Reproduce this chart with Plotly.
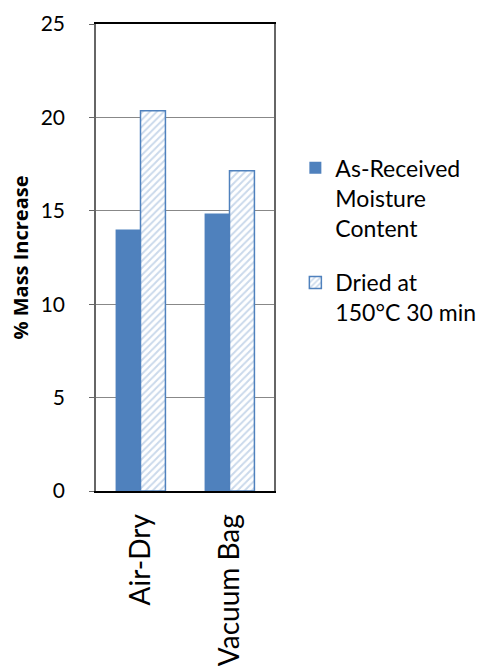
import plotly.graph_objects as go

categories = ["Air-Dry", "Vacuum Bag"]
as_received = [14.0, 14.85]
dried = [20.35, 17.15]
series_names = ["As-Received<br>Moisture<br>Content", "Dried at<br>150°C 30 min"]
y_ticks = [0, 5, 10, 15, 20, 25]

blue = "#4F81BD"
font_family = "Lato, Open Sans, sans-serif"

fig = go.Figure()
fig.add_trace(go.Bar(
    x=categories, y=as_received, name=series_names[0], legendgroup="a",
    marker=dict(color=blue, line=dict(width=0)),
))
fig.add_trace(go.Bar(
    x=categories, y=dried, name=series_names[1], legendgroup="b",
    marker=dict(color="white", line=dict(color=blue, width=1.5),
                pattern=dict(shape="/", fgcolor="#95B3D7", bgcolor="white", size=5, solidity=0.4)),
))

fig.update_layout(
    width=484, height=666,
    margin=dict(l=96, r=210, t=24, b=175, autoexpand=False),
    paper_bgcolor="white", plot_bgcolor="white",
    barmode="group", bargap=0.44, bargroupgap=0,
    font=dict(family=font_family, color="black"),
    showlegend=True,
    legend=dict(x=1.12, y=0.738, xanchor="left", yanchor="top", valign="top",
                font=dict(size=23, family=font_family),
                tracegroupgap=22, itemwidth=30, traceorder="grouped",
                bgcolor="rgba(0,0,0,0)"),
    yaxis=dict(range=[0, 25], tickvals=y_ticks, showgrid=True, gridcolor="#888888", gridwidth=1,
               showline=True, linecolor="#666666", linewidth=1.5, mirror=True,
               ticks="outside", ticklen=5, tickcolor="#666666", ticklabelstandoff=20,
               tickfont=dict(size=21), zeroline=False, automargin=False,
               title=dict(text="<b>% Mass Increase</b>",
                          font=dict(size=20, family="Open Sans, sans-serif"), standoff=7)),
    xaxis=dict(showline=True, linecolor="black", linewidth=2, mirror=True, automargin=False,
               tickangle=-90, tickfont=dict(size=28), ticks="", ticklabelstandoff=10),
)

fig.write_html("out.html")
